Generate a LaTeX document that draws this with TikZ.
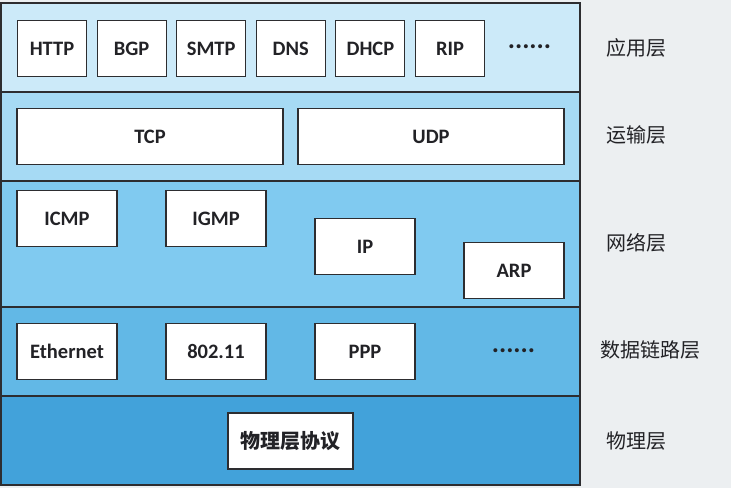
\documentclass[tikz,border=0pt]{standalone}
\usepackage{fontspec}
\setmainfont{Carlito}
\newfontfamily\cjk{Noto Sans CJK SC}
\usetikzlibrary{positioning}
\definecolor{bgcol}{RGB}{236,239,241}
\definecolor{appcol}{RGB}{204,234,249}
\definecolor{transcol}{RGB}{166,218,244}
\definecolor{netcol}{RGB}{128,202,240}
\definecolor{linkcol}{RGB}{98,184,230}
\definecolor{physcol}{RGB}{66,162,218}
\definecolor{edge}{RGB}{45,45,48}
\definecolor{ink}{RGB}{34,34,38}

\begin{document}
\begin{tikzpicture}[x=1pt, y=-1pt,
    layer/.style={draw=edge, line width=1.6pt, inner sep=0pt, minimum width=579pt},
    proto/.style={draw=edge, line width=1.1pt, fill=white, inner sep=0pt, text=ink,
      minimum width=69pt, minimum height=56pt, font=\bfseries\fontsize{20.5}{22}\selectfont},
    more/.style={text=ink, inner sep=0pt, font=\bfseries\fontsize{27}{28}\selectfont},
    tag/.style={text=ink, font=\cjk\fontsize{20}{22}\selectfont}]
  \useasboundingbox (0,0) rectangle (731,488);
  \fill[bgcol] (0,0) rectangle (731,488);

  % layers
  \node[layer, fill=appcol, minimum height=89pt] (app) at (290.5,47.5) {};
  \node[layer, fill=transcol, minimum height=89pt] (trans) at (290.5,136.5) {};
  \node[layer, fill=netcol, minimum height=126pt] (net) at (290.5,244) {};
  \node[layer, fill=linkcol, minimum height=89pt] (link) at (290.5,351.5) {};
  \node[layer, fill=physcol, minimum height=89pt] (phys) at (290.5,440.5) {};

  % application layer
  \foreach \name/\txt [count=\i from 0] in {http/HTTP, bgp/BGP, smtp/SMTP, dns/DNS, dhcp/DHCP, rip/RIP}{
    \node[proto] (\name) at ({52+79.6*\i},48.5) {\txt};
  }
  \node[more] (appmore) at (529.5,47) {......};

  % transport layer
  \node[proto, minimum width=266pt] (tcp) at (150,136.5) {TCP};
  \node[proto, minimum width=266pt] (udp) at (431,136.5) {UDP};

  % network layer
  \node[proto, minimum width=100pt] (icmp) at (67,218.5) {ICMP};
  \node[proto, minimum width=100pt] (igmp) at (216,218.5) {IGMP};
  \node[proto, minimum width=100pt] (ip) at (365,246.5) {IP};
  \node[proto, minimum width=100pt] (arp) at (514,270.5) {ARP};

  % data link layer
  \node[proto, minimum width=100pt] (eth) at (67,351.5) {Ethernet};
  \node[proto, minimum width=100pt] (wifi) at (216,351.5) {802.11};
  \node[proto, minimum width=100pt] (ppp) at (365,351.5) {PPP};
  \node[more] (linkmore) at (513.5,351) {......};

  % physical layer
  \node[proto, minimum width=125pt, font=\cjk\bfseries\fontsize{20}{22}\selectfont] (physproto) at (290.5,441) {物理层协议};

  % layer names
  \node[tag] (appname) at (636,48) {应用层};
  \node[tag] (transname) at (636,135) {运输层};
  \node[tag] (netname) at (636,243) {网络层};
  \node[tag] (linkname) at (650,350) {数据链路层};
  \node[tag] (physname) at (636,441) {物理层};
\end{tikzpicture}
\end{document}
